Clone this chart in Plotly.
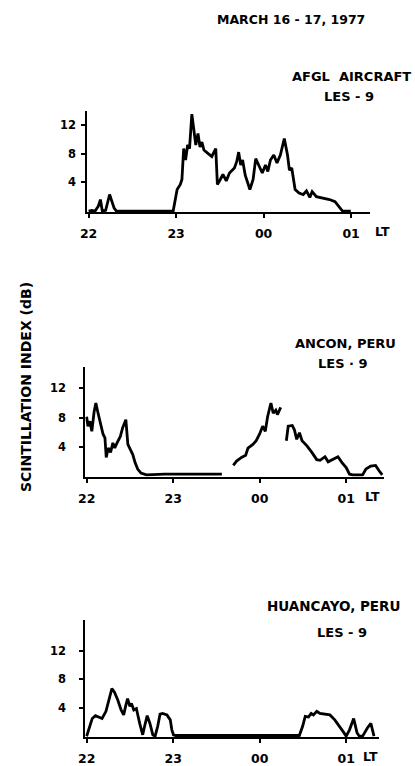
import plotly.graph_objects as go

W, H = 415, 766

# Scintillation index (dB) vs. time, in minutes after 22:00 LT, March 16-17, 1977

# AFGL aircraft, LES-9
afgl_min = [0, 2.2, 4.5, 6.7, 8.1, 9.4, 11.7, 14.4, 17.5, 19.1, 58.0, 59.5, 60.7, 62.9,
            64.0, 65.2, 66.5, 67.9, 69.2, 70.8, 72.1, 73.5, 75.0, 76.4, 77.7, 79.1, 82.0,
            84.5, 87.2, 88.3, 90.3, 92.1, 94.4, 96.6, 100.0, 101.6, 102.9, 104.3, 105.6,
            107.4, 110.6, 112.8, 114.6, 116.8, 119.1, 121.3, 122.9, 124.7, 127.0, 129.2,
            131.5, 134.2, 136.4, 137.7, 139.3, 141.6, 144.3, 147.2, 149.4, 151.7, 153.3,
            156.2, 160.7, 165.2, 169.0, 171.9, 174.1, 179.8]
afgl_db = [0, 0.1, 0, 0.7, 1.6, 0, 0.1, 2.3, 0.4, 0, 0, 1.8, 3.0, 3.7,
           4.4, 8.7, 7.1, 9.2, 8.7, 13.5, 11.7, 9.2, 10.8, 8.9, 9.6, 8.5, 8.0,
           7.6, 8.7, 3.7, 4.4, 5.1, 4.2, 5.3, 6.0, 6.9, 8.2, 6.4, 7.1,
           5.0, 3.0, 4.4, 7.3, 6.2, 5.3, 6.4, 5.5, 7.1, 7.8, 6.7,
           7.8, 10.1, 7.8, 5.7, 6.0, 3.0, 2.5, 2.3, 2.8, 1.9, 2.7,
           2.0, 1.8, 1.6, 1.3, 0.55, 0, 0]

# Ancon, Peru, LES-9 (None marks data gaps)
ancon_min = [0, 0.9, 2.3, 3.6, 5.2, 6.4, 7.7, 9.8, 11.4, 12.7, 13.6, 15.0, 16.6, 18.2,
             19.5, 21.1, 23.4, 25.0, 27.2, 28.6, 30.2, 32.0, 33.6, 35.4, 37.7, 41.5,
             54.0, 76.7, 93.8, None,
             101.7, 104.0, 107.4, 110.3, 111.9, 115.3, 117.6, 119.9, 122.1, 123.9, 125.5,
             127.8, 129.4, 131.2, 132.3, 134.6, None,
             138.5, 139.8, 142.6, 144.1, 145.7, 147.6, 149.4, 152.8, 156.2, 159.6, 161.9,
             165.3, 167.5, 170.9, 174.3, 177.1, 180.0, 182.3, 184.6, 191.4, 193.7, 197.0,
             200.4, 202.7, 205.0]
ancon_db = [8.1, 6.8, 7.5, 6.1, 8.8, 10.0, 8.8, 7.2, 5.7, 5.2, 2.5, 3.8, 3.2, 4.5,
            3.8, 4.5, 5.4, 6.6, 7.7, 4.3, 3.6, 2.9, 1.8, 0.9, 0.35, 0.1,
            0.2, 0.15, 0.2, None,
            1.4, 2.0, 2.5, 2.8, 3.8, 4.3, 4.8, 5.7, 6.8, 6.1, 8.1,
            10.0, 8.6, 9.0, 8.4, 9.4, None,
            4.8, 6.8, 6.9, 6.3, 5.0, 5.9, 4.8, 4.1, 3.2, 2.2, 2.1,
            2.6, 1.9, 2.3, 2.6, 1.8, 1.1, 0.2, 0.1, 0.1, 0.9, 1.3,
            1.4, 0.7, 0.1]

# Huancayo, Peru, LES-9
huanc_min = [0, 1.6, 3.9, 6.1, 8.4, 10.7, 13.4, 15.2, 17.5, 19.3, 21.6, 23.9, 25.7, 27.0,
             28.4, 30.0, 31.1, 32.7, 34.5, 36.8, 38.9, 40.2, 42.0, 43.9, 45.9, 47.5, 49.3,
             50.9, 52.7, 55.7, 58.0, 59.1, 60.2, 61.8, 147.5, 149.8, 151.6, 153.9, 155.7,
             157.3, 159.6, 161.8, 165.3, 168.7, 172.1, 175.5, 178.4, 180.0, 182.3, 185.2,
             187.5, 189.1, 191.4, 194.8, 197.1, 199.3]
huanc_db = [0, 0.9, 2.5, 2.9, 2.7, 2.5, 3.5, 5.1, 6.7, 6.2, 5.1, 3.7, 3.0, 4.2,
            5.3, 4.2, 4.6, 3.7, 3.9, 1.8, 0.2, 1.4, 2.9, 1.8, 0.2, 0, 1.4,
            3.1, 3.2, 3.0, 2.3, 0.9, 0.2, 0.1, 0.1, 1.4, 2.8, 2.7, 3.2,
            3.0, 3.5, 3.2, 3.1, 3.0, 2.3, 1.4, 0.5, 0, 0.9, 2.5,
            0.5, 0, 0, 1.2, 1.8, 0]

hour_ticks = [0, 60, 120, 180]
hour_labels = ["22", "23", "00", "01"]
db_ticks = [4, 8, 12]
db_labels = ["4", "8", "12"]

FONT = "DejaVu Sans"

# panel geometry: x of 22 LT, px per minute, axis end (min), baseline px, px per dB, top (dB)
panels = [
    dict(x0=83, ppm=89 / 60, xend=192.8, base=213, ppd=7.25, ytop=13.9, ystand=3,
         x=afgl_min, y=afgl_db),
    dict(x0=81, ppm=88 / 60, xend=205.9, base=480, ppd=7.33, ytop=14.9, ystand=11,
         x=ancon_min, y=ancon_db),
    dict(x0=81, ppm=88 / 60, xend=202.5, base=743, ppd=7.17, ytop=16.3, ystand=11,
         x=huanc_min, y=huanc_db),
]

fig = go.Figure()
layout = {}
XMIN, YMIN = -1.0, -0.15
for i, p in enumerate(panels, start=1):
    sfx = "" if i == 1 else str(i)
    fig.add_trace(go.Scatter(
        x=p["x"], y=p["y"], mode="lines", connectgaps=False,
        line=dict(color="black", width=2.8, shape="linear"),
        xaxis="x" + sfx, yaxis="y" + sfx, showlegend=False, hoverinfo="skip"))
    left = p["x0"] + XMIN * p["ppm"]
    right = p["x0"] + p["xend"] * p["ppm"]
    bottom = p["base"] - YMIN * p["ppd"]
    top = p["base"] - p["ytop"] * p["ppd"]
    layout["xaxis" + sfx] = dict(
        domain=[left / W, right / W], range=[XMIN, p["xend"]], anchor="y" + sfx,
        showline=True, linecolor="black", linewidth=1.6, showgrid=False, zeroline=False,
        ticks="outside", ticklen=4, tickwidth=1.6, tickcolor="black",
        tickvals=hour_ticks, ticktext=hour_labels, ticklabelstandoff=5,
        tickfont=dict(family=FONT, size=12.5, color="black", weight="bold"))
    layout["yaxis" + sfx] = dict(
        domain=[1 - bottom / H, 1 - top / H], range=[YMIN, p["ytop"]], anchor="x" + sfx,
        showline=True, linecolor="black", linewidth=1.6, showgrid=False, zeroline=False,
        ticks="outside", ticklen=4, tickwidth=1.6, tickcolor="black",
        tickvals=db_ticks, ticktext=db_labels, ticklabelstandoff=p["ystand"],
        tickfont=dict(family=FONT, size=11.5, color="black", weight="bold"))


def note(text, px, py, size, angle=0):
    return dict(text=text, x=px / W, y=1 - py / H, xref="paper", yref="paper",
                xanchor="center", yanchor="middle", showarrow=False, textangle=angle,
                font=dict(family=FONT, size=size, color="black", weight="bold"))


annotations = [
    note("MARCH 16 - 17, 1977", 289, 20, 12.5),
    note("AFGL  AIRCRAFT", 350, 77, 13),
    note("LES - 9", 348, 97, 13),
    note("ANCON, PERU", 344, 347, 13),
    note("LES · 9", 342, 367, 13),
    note("HUANCAYO, PERU", 332, 612, 13.5),
    note("LES - 9", 341, 638, 13),
    note("LT", 382, 234, 12.5),
    note("LT", 372, 501, 12.5),
    note("LT", 370, 763, 12.5),
    note("SCINTILLATION INDEX (dB)", 20, 391, 14, angle=-90),
]

fig.update_layout(
    width=W, height=H, margin=dict(l=0, r=0, t=0, b=0),
    paper_bgcolor="white", plot_bgcolor="white",
    annotations=annotations, showlegend=False, **layout)

fig.write_html("out.html")
